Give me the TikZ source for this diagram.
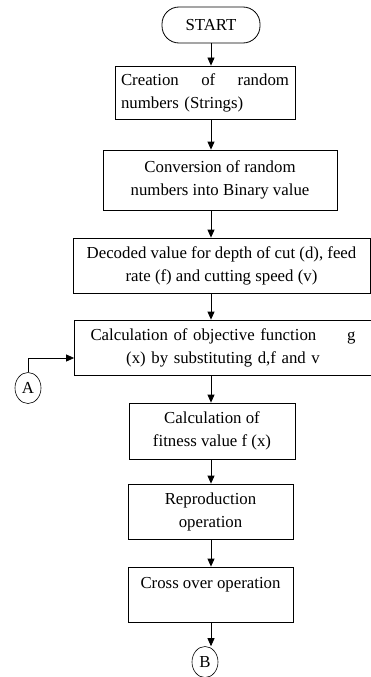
\documentclass[tikz,border=0pt]{standalone}
\usepackage{fontspec}
\setmainfont{Liberation Serif}
\usepackage{tikz}
\usetikzlibrary{shapes.geometric, arrows.meta, positioning, calc}

\begin{document}
\begin{tikzpicture}[
    x=1pt, y=-1pt,
    every node/.style={font=\fontsize{16.8}{23}\selectfont},
    stepbox/.style={rectangle, draw, line width=0.8pt, align=center, inner sep=4pt},
    terminal/.style={rectangle, draw, line width=0.8pt, rounded corners=17pt, minimum width=98pt, minimum height=36pt},
    connector/.style={ellipse, draw, line width=0.6pt, inner sep=0pt, minimum width=26pt, minimum height=31pt},
    arr/.style={-{Triangle[length=8pt,width=7pt]}, line width=0.8pt},
]
    \useasboundingbox (0,0) rectangle (371,677);
    % Start
    \node[terminal] (start) at (211,25) {START};
    % Boxes
    \node[stepbox, minimum width=180pt, minimum height=53pt, text width=168pt, align=left] (create) at (205,92.5)
        {\makebox[\linewidth]{Creation\hfill of\hfill random}\\numbers (Strings)};
    \node[stepbox, minimum width=234pt, minimum height=60pt] (convert) at (220,180)
        {Conversion of random\\numbers into Binary value};
    \node[stepbox, minimum width=297pt, minimum height=55pt] (decode) at (221.5,265.5)
        {Decoded value for depth of cut (d), feed\\rate (f) and cutting speed (v)};
    \node[stepbox, minimum width=297pt, minimum height=55pt, text width=265pt] (objective) at (223,347.5)
        {\makebox[\linewidth]{Calculation of objective function\hfill g}\\(x) by substituting d,f and v};
    \node[stepbox, minimum width=166pt, minimum height=56pt] (fitness) at (212,431)
        {Calculation of\\fitness value f (x)};
    \node[stepbox, minimum width=165pt, minimum height=55pt] (repro) at (210.5,511.5)
        {Reproduction\\operation};
    \node[stepbox, minimum width=165pt, minimum height=55pt] (cross) at (210.5,594.5)
        {Cross over operation\\\mbox{}};
    % Connectors
    \node[connector] (A) at (28,388) {A};
    \node[connector] (B) at (205,662) {B};
    % Arrows
    \draw[arr] (start.south) -- (start.south |- create.north);
    \draw[arr] (start.south |- create.south) -- (start.south |- convert.north);
    \draw[arr] (start.south |- convert.south) -- (start.south |- decode.north);
    \draw[arr] (start.south |- decode.south) -- (start.south |- objective.north);
    \draw[arr] (start.south |- objective.south) -- (start.south |- fitness.north);
    \draw[arr] (start.south |- fitness.south) -- (start.south |- repro.north);
    \draw[arr] (start.south |- repro.south) -- (start.south |- cross.north);
    \draw[arr] (start.south |- cross.south) -- (start.south |- B.north);
    \draw[arr] (A.north) |- ([yshift=-10.5pt]objective.west);
\end{tikzpicture}
\end{document}
